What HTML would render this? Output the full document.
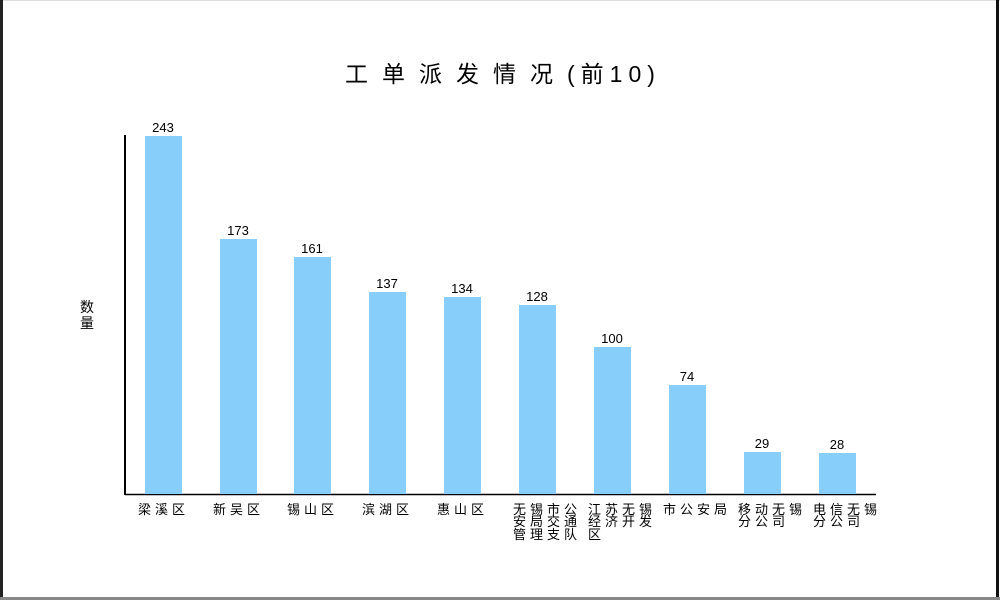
<!DOCTYPE html>
<html><head><meta charset="utf-8"><style>
html,body{margin:0;padding:0;background:#fff}
svg{display:block}
text{font-family:"Liberation Sans","Noto Sans CJK SC",sans-serif;fill:#000}
</style></head><body>
<svg width="1000" height="600" xmlns="http://www.w3.org/2000/svg">
<rect x="0" y="0" width="1000" height="600" fill="#fff"/>
<line x1="0" y1="0.5" x2="1000" y2="0.5" stroke="#ddd"/>
<line x1="1.5" y1="0" x2="1.5" y2="600" stroke="#222" stroke-width="3"/>
<line x1="997.5" y1="0" x2="997.5" y2="600" stroke="#111" stroke-width="3"/>
<rect x="0" y="597" width="1000" height="3" fill="#888"/>
<text x="345" y="82" font-size="23" letter-spacing="14">工单派发情况</text>
<text x="567" y="82" font-size="23" letter-spacing="6">(前10)</text>
<text x="80" y="312" font-size="14">数</text>
<text x="80" y="328" font-size="14">量</text>
<line x1="125" y1="135" x2="125" y2="495" stroke="#000" stroke-width="2"/>
<line x1="125" y1="494.5" x2="876" y2="494.5" stroke="#000" stroke-width="1.5"/>
<g fill="#87cefa">
<rect x="145" y="136" width="37" height="358"/>
<rect x="220" y="239" width="37" height="255"/>
<rect x="294" y="257" width="37" height="237"/>
<rect x="369" y="292" width="37" height="202"/>
<rect x="444" y="297" width="37" height="197"/>
<rect x="519" y="305" width="37" height="189"/>
<rect x="594" y="347" width="37" height="147"/>
<rect x="669" y="385" width="37" height="109"/>
<rect x="744" y="452" width="37" height="42"/>
<rect x="819" y="453" width="37" height="41"/>
</g>
<g font-size="13" text-anchor="middle">
<text x="163" y="132">243</text>
<text x="238" y="235">173</text>
<text x="312" y="253">161</text>
<text x="387" y="288">137</text>
<text x="462" y="293">134</text>
<text x="537" y="301">128</text>
<text x="612" y="343">100</text>
<text x="687" y="381">74</text>
<text x="762" y="448">29</text>
<text x="837" y="449">28</text>
</g>
<g font-size="13" letter-spacing="4">
<text x="138" y="514">梁溪区</text>
<text x="213" y="514">新吴区</text>
<text x="287" y="514">锡山区</text>
<text x="362" y="514">滨湖区</text>
<text x="437" y="514">惠山区</text>
<text x="513" y="514">无锡市公</text>
<text x="513" y="526">安局交通</text>
<text x="513" y="539">管理支队</text>
<text x="588" y="514">江苏无锡</text>
<text x="588" y="526">经济开发</text>
<text x="588" y="539">区</text>
<text x="663" y="514">市公安局</text>
<text x="738" y="514">移动无锡</text>
<text x="738" y="526">分公司</text>
<text x="813" y="514">电信无锡</text>
<text x="813" y="526">分公司</text>
</g>
</svg>
</body></html>
